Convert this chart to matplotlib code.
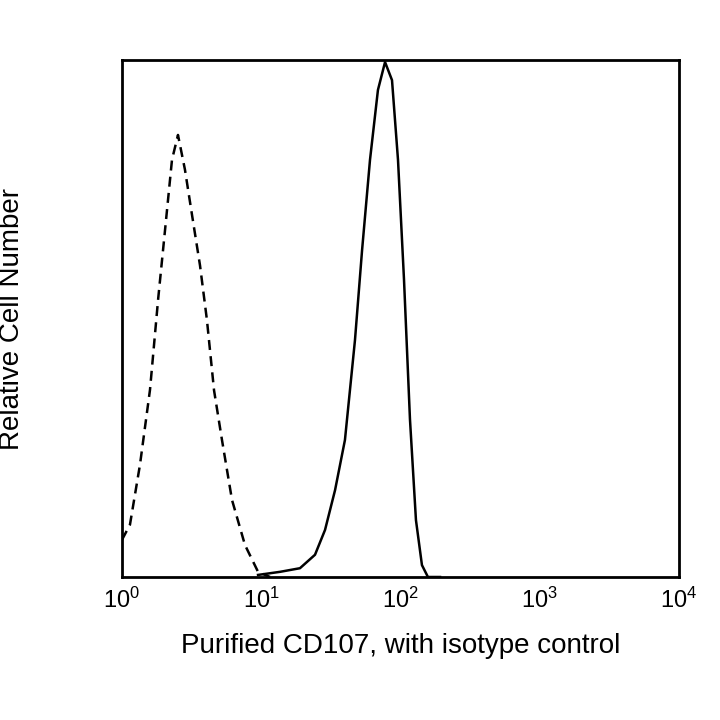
import matplotlib
matplotlib.use("Agg")
import matplotlib.pyplot as plt
import numpy as np

plt.rcParams['font.family'] = ['Liberation Sans', 'DejaVu Sans']
plt.rcParams['mathtext.fontset'] = 'custom'
plt.rcParams['mathtext.rm'] = 'Liberation Sans'

iso_log = [0.000,0.057,0.129,0.201,0.259,0.309,0.359,0.402,0.452,0.503,0.560,0.610,0.661,0.718,0.790,0.883,0.977,1.063]
iso_h   = [0.072,0.101,0.217,0.362,0.536,0.671,0.807,0.855,0.788,0.700,0.603,0.497,0.361,0.265,0.149,0.062,0.010,0.0]
cd_log = [0.977,1.135,1.278,1.386,1.458,1.530,1.601,1.673,1.724,1.781,1.838,1.889,1.939,1.982,2.025,2.068,2.111,2.154,2.197,2.284]
cd_h   = [0.004,0.010,0.017,0.043,0.091,0.168,0.265,0.458,0.632,0.807,0.942,0.996,0.961,0.807,0.576,0.305,0.110,0.023,0.0,0.0]
xticks = [1, 10, 100, 1000, 10000]
xticklabels = [r"$\mathregular{10^0}$", r"$\mathregular{10^1}$", r"$\mathregular{10^2}$", r"$\mathregular{10^3}$", r"$\mathregular{10^4}$"]

fig = plt.figure(figsize=(7.2, 7.2), dpi=100)
ax = fig.add_axes([122/720, 1-577/720, (679-122)/720, (577-60)/720])
ax.plot(10**np.array(iso_log), iso_h, color="black", lw=1.8, ls=(0, (4, 2.5)))
ax.plot(10**np.array(cd_log), cd_h, color="black", lw=1.8)
ax.set_xscale("log")
ax.set_xlim(1, 1e4)
ax.set_ylim(0, 1.0)
ax.set_xticks(xticks)
ax.set_xticklabels(xticklabels, fontsize=17)
ax.minorticks_off()
ax.tick_params(axis="x", length=0, pad=8)
ax.set_yticks([])
for s in ax.spines.values():
    s.set_linewidth(2)
ax.set_xlabel("Purified CD107, with isotype control", fontsize=20, labelpad=14)
ax.set_ylabel("Relative Cell Number", fontsize=20, labelpad=70)
fig.savefig("out.png", dpi=100)
